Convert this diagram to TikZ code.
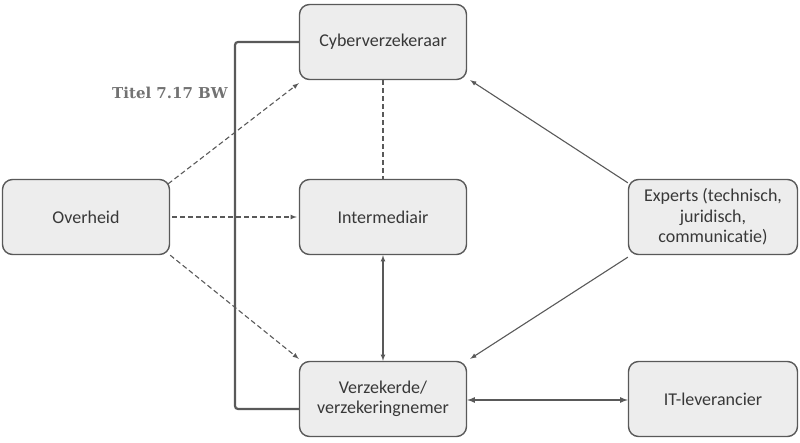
\documentclass[tikz,border=0pt]{standalone}
\usepackage{fontspec}
\setmainfont[Ligatures = CommonOff]{Carlito}
\newfontfamily\titelfont{DejaVu Serif}
\usetikzlibrary{arrows}
\usetikzlibrary{positioning}
\definecolor{mgray}{rgb}{0.35, 0.35, 0.35}
\definecolor{mfill}{rgb}{0.93, 0.93, 0.93}
\definecolor{mtext}{rgb}{0.22, 0.22, 0.22}
\tikzset{box/.style = {draw = mgray, fill = mfill, line width = 1.4, rounded corners = 10,
    minimum width = 167, minimum height = 75, align = center, text = mtext,
    font = \fontsize{18}{20.5}\selectfont}}
\tikzset{link/.style = {mgray, line width = 1.1, >=latex}}
\tikzset{dashline/.style = {dash pattern = on 5 off 3}}

\begin{document}
\begin{tikzpicture}[x = 1pt, y = -1pt]
      \useasboundingbox (0, 0) rectangle (800, 443);

      \node [box] (cyber) at (383, 42) {Cyberverzekeraar};
      \node [box] (inter) at (383, 217) {Intermediair};
      \node [box] (overheid) at (86, 217) {Overheid};
      \node [box, minimum width = 169] (experts) at (713, 217) {Experts (technisch,\\juridisch,\\communicatie)};
      \node [box] (verzekerde) at (383, 399) {Verzekerde/\\verzekeringnemer};
      \node [box, minimum width = 169] (it) at (713, 399) {IT-leverancier};

      \draw [mgray, line width = 2.2, rounded corners = 3] (cyber.west) -- (235, 42) -- (235, 409) -- (verzekerde.west |- 0, 409);

      \node [text = mgray!85, font = \titelfont\bfseries\fontsize{15}{17}\selectfont] (titel) at (170, 93) {Titel 7.17 BW};

      \draw [link, dashline, ->] (overheid.north east) ++(-2, 5) -- ([shift = {(0, 3)}] cyber.south west);
      \draw [link, dashline, ->] (overheid) ++(86, 0) -- ([xshift = -2] inter.west);
      \draw [link, dashline, ->] (overheid.south east) -- ([shift = {(0, -2)}] verzekerde.north west);
      \draw [link, dashline] (cyber) -- (inter);
      \draw [link, <->] (inter) -- (verzekerde);
      \draw [link, ->] (experts.north west) ++(0, 4) -- ([shift = {(3, 0)}] cyber.south east);
      \draw [link, ->] (experts.south west) ++(0, 2) -- ([shift = {(3, -2)}] verzekerde.north east);
      \draw [link, line width = 1.6, <->] ([yshift = -1] verzekerde.east) -- ([yshift = -1] it.west);
    \end{tikzpicture}
\end{document}
